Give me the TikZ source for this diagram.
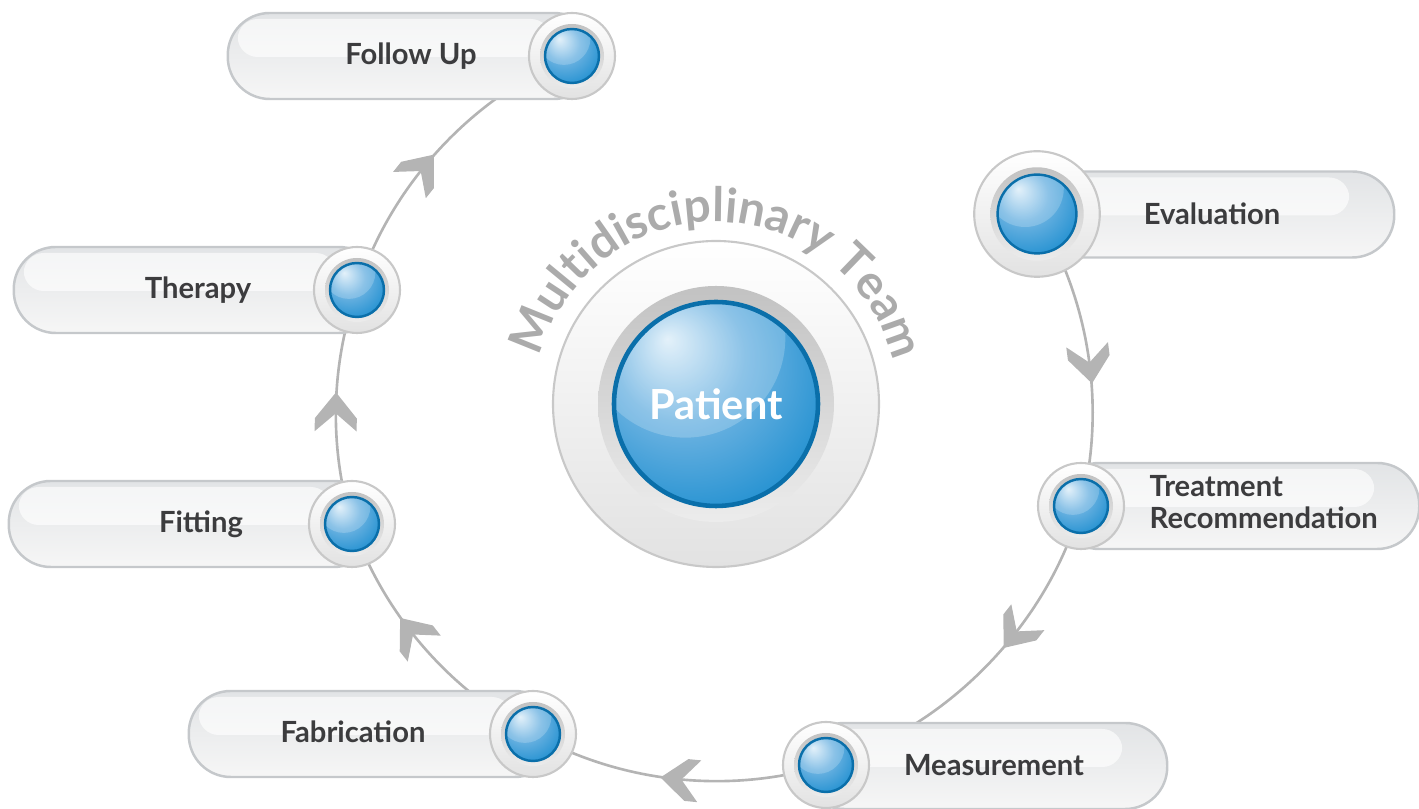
\documentclass[tikz,border=0pt]{standalone}
\usepackage{fontspec}
\setmainfont{Lato}
\usetikzlibrary{calc}
\usetikzlibrary{decorations.markings}
\usetikzlibrary{decorations.text}
\definecolor{linegrey}{HTML}{B4B4B4}
\definecolor{arcgrey}{HTML}{ABABAB}
\definecolor{textdark}{HTML}{3C3C3E}
\definecolor{pillline}{HTML}{C5C8CB}
\definecolor{pilltop}{HTML}{E2E4E6}
\definecolor{pillbot}{HTML}{F6F6F6}
\definecolor{rimline}{HTML}{C8C8C8}
\definecolor{rimbot}{HTML}{E2E2E2}
\definecolor{ringtop}{HTML}{C2C2C2}
\definecolor{ringbot}{HTML}{ECECEC}
\definecolor{balledge}{HTML}{0A6FAA}
\definecolor{ballhi}{HTML}{DDEEF9}
\definecolor{ballmid}{HTML}{6FB4E2}
\definecolor{ballcol}{HTML}{1F8FD0}
\definecolor{balldk}{HTML}{0887C6}
\pgfdeclareradialshading{glossball}{\pgfpoint{-12bp}{16bp}}{color(0bp)=(ballhi); color(16bp)=(ballmid); color(36bp)=(ballcol); color(60bp)=(balldk)}
\tikzset{
	pill/.style={rectangle, rounded corners=0.42cm, minimum height=0.86cm, inner sep=0,
		draw=pillline, line width=0.7pt, top color=pilltop, bottom color=pillbot,
		path picture={\fill[white, opacity=.65, rounded corners=0.2cm]
			([xshift=0.1cm, yshift=-0.06cm]path picture bounding box.north west) rectangle
			([xshift=-0.45cm, yshift=0.42cm]path picture bounding box.south east);}},
	rim/.style={circle, inner sep=0, minimum size=#1, draw=rimline, line width=0.6pt,
		top color=white, bottom color=rimbot},
	ring/.style={circle, inner sep=0, minimum size=#1, top color=ringtop, bottom color=ringbot},
	ball/.style={circle, inner sep=0, minimum size=#1, draw=balledge, line width=0.7pt,
		shade, shading=glossball,
		path picture={\fill[white, opacity=.2] let \p1=(path picture bounding box.south west),
			\p2=(path picture bounding box.north east), \n1={(\x2-\x1)/2} in
			($(\p1)!.5!(\p2)$) ++(-.3*\n1,.65*\n1) circle[radius=.98*\n1];}},
	lbl/.style={inner sep=0, text=textdark, font=\fontsize{8.3pt}{9.2pt}\selectfont\bfseries},
	flow/.style={draw=linegrey, line width=0.75pt, postaction={decorate},
		decoration={markings, mark=at position #1 with {\fill[linegrey] (0.19,0) -- (-0.07,0.21)
			-- (-0.2,0.21) -- (-0.02,0) -- (-0.2,-0.21) -- (-0.07,-0.21) -- cycle;}}},
	flow/.default=0.5
}

\begin{document}
\begin{tikzpicture}
	\useasboundingbox (0,0) rectangle (14.19,-8.09);
	\coordinate (pat) at (7.16,-4.04);
	\coordinate (eval) at (10.37,-2.14);
	\coordinate (treat) at (10.81,-5.06);
	\coordinate (meas) at (8.26,-7.65);
	\coordinate (fab) at (5.33,-7.34);
	\coordinate (fit) at (3.52,-5.24);
	\coordinate (ther) at (3.57,-2.90);
	\coordinate (follow) at (5.72,-0.56);

	% cycle
	\draw[flow=0.53] (eval) to[bend left=23, looseness=.88] (treat);
	\draw[flow=0.38] (treat) to[bend left=28.7, looseness=.88] (meas);
	\draw[flow=0.49] (meas) to[bend left=23, looseness=.88] (fab);
	\draw[flow=0.56] (fab) to[bend left=21.4, looseness=.88] (fit);
	\draw[flow=0.48] (fit) to[bend left=17.9, looseness=.88] (ther);
	\draw[flow=0.42] (ther) to[bend left=25, looseness=.88] (follow);

	\node[pill, minimum width=3.68cm, anchor=east] (follow-pill) at (5.97,-0.56) {};
	\node[pill, minimum width=3.67cm, anchor=east] (ther-pill) at (3.82,-2.90) {};
	\node[pill, minimum width=3.67cm, anchor=east] (fit-pill) at (3.77,-5.24) {};
	\node[pill, minimum width=3.68cm, anchor=east] (fab-pill) at (5.58,-7.34) {};
	\node[pill, minimum width=3.81cm, anchor=west] (eval-pill) at (10.12,-2.145) {};
	\node[pill, minimum width=3.62cm, anchor=west] (treat-pill) at (10.56,-5.06) {};
	\node[pill, minimum width=3.65cm, anchor=west] (meas-pill) at (8.01,-7.66) {};

	\foreach \n/\s in {follow/1, ther/1, fit/1, fab/1, treat/1, meas/1, eval/1.46}{
		\node[rim=0.86cm*\s] (\n-rim) at (\n) {};
		\node[ring=0.64cm*\s] (\n-ring) at (\n) {};
		\node[ball=0.54cm*\s] (\n-ball) at (\n) {};
	}

	\node[lbl] (follow-txt) at (4.11,-0.56) {Follow Up};
	\node[lbl] (ther-txt) at (1.98,-2.90) {Therapy};
	\node[lbl] (fit-txt) at (2.01,-5.24) {Fitting};
	\node[lbl] (fab-txt) at (3.53,-7.32) {Fabrication};
	\node[lbl] (eval-txt) at (12.12,-2.14) {Evaluation};
	\node[lbl, anchor=west, align=left] (treat-txt) at (11.49,-5.02) {Treatment\\Recommendation};
	\node[lbl] (meas-txt) at (9.94,-7.65) {Measurement};

	% patient in the middle
	\node[rim=3.26cm] (pat-rim) at (pat) {};
	\node[ring=2.36cm] (pat-ring) at (pat) {};
	\node[ball=2.04cm, line width=1.3pt, text=white, font=\fontsize{11.8pt}{12pt}\selectfont\bfseries]
		(pat-ball) at (pat) {Patient};
	\path[decorate, decoration={text along path, text align={fit to path}, text color=arcgrey,
		text={|\fontsize{13.5pt}{14pt}\selectfont\bfseries|Multidisciplinary Team}}]
		(pat) ++(165:1.82) arc[start angle=165, end angle=16.5, radius=1.82];
\end{tikzpicture}
\end{document}
